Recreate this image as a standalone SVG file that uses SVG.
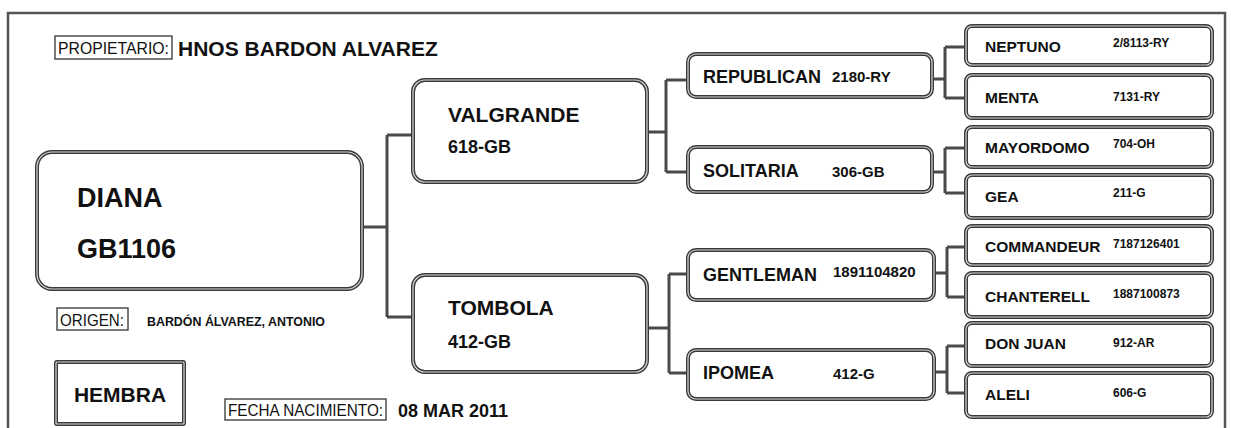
<svg xmlns="http://www.w3.org/2000/svg" width="1234" height="428" viewBox="0 0 1234 428">
<style>
.bo{fill:#fff;stroke:#3a3a3a;stroke-width:4}
.bi{fill:none;stroke:#d8d8d8;stroke-width:1.2}
.frame{fill:none;stroke:#555;stroke-width:2.5}
.lbl{fill:#fff;stroke:#333;stroke-width:1.3}
.c{fill:none;stroke:#4a4a4a;stroke-width:3}
text{font-family:"Liberation Sans",Arial,sans-serif;fill:#111}
.b{font-weight:bold}
.n1{font-size:27px;font-weight:bold}
.n2{font-size:21px;font-weight:bold}
.i2{font-size:18px;font-weight:bold}
.n3{font-size:18px;font-weight:bold}
.i3{font-size:15px;font-weight:bold}
.n4{font-size:15.5px;font-weight:bold}
.i4{font-size:12px;font-weight:bold}
</style>
<rect x="0" y="0" width="1234" height="428" fill="#fff"/>
<rect class="frame" x="8" y="13" width="1217" height="430"/>

<g id="propietario">
<rect class="lbl" x="55" y="36" width="117" height="23"/>
<text x="58" y="54" font-size="17" textLength="111" lengthAdjust="spacingAndGlyphs">PROPIETARIO:</text>
<text class="b" x="178" y="56" font-size="21">HNOS BARDON ALVAREZ</text>
</g>

<g id="origen">
<rect class="lbl" x="57" y="308" width="71" height="22"/>
<text x="60" y="326" font-size="16" textLength="64" lengthAdjust="spacingAndGlyphs">ORIGEN:</text>
<text class="b" x="147" y="326" font-size="12" textLength="178" lengthAdjust="spacingAndGlyphs">BARDÓN ÁLVAREZ, ANTONIO</text>
</g>

<g id="hembra">
<rect class="bo" x="56" y="362" width="128" height="62" rx="1"/>
<rect class="bi" x="56" y="362" width="128" height="62" rx="1"/>
<text class="b" x="120" y="402" font-size="21" text-anchor="middle">HEMBRA</text>
</g>

<g id="fecha">
<rect class="lbl" x="225" y="399" width="161" height="21"/>
<text x="228" y="416" font-size="16" textLength="155" lengthAdjust="spacingAndGlyphs">FECHA NACIMIENTO:</text>
<text class="b" x="398" y="417" font-size="18">08 MAR 2011</text>
</g>

<g id="connectors">
<path class="c" d="M362 227 H387 M387 135 V317 M387 135 H413 M387 317 H413"/>
<path class="c" d="M647 132 H666 M666 80 V172 M666 80 H688 M666 172 H688"/>
<path class="c" d="M647 328 H669 M669 274 V373 M669 274 H688 M669 373 H688"/>
<path class="c" d="M932 79 H945 M945 47 V98 M945 47 H966 M945 98 H966"/>
<path class="c" d="M932 172 H945 M945 148 V193 M945 148 H966 M945 193 H966"/>
<path class="c" d="M934 273 H947 M947 247 V297 M947 247 H966 M947 297 H966"/>
<path class="c" d="M934 372 H947 M947 346 V393 M947 346 H966 M947 393 H966"/>
</g>

<g id="diana">
<rect class="bo" x="37" y="152" width="325" height="137" rx="15"/>
<rect class="bi" x="37" y="152" width="325" height="137" rx="15"/>
<text class="n1" x="77" y="207">DIANA</text>
<text class="n1" x="77" y="258">GB1106</text>
</g>

<g id="valgrande">
<rect class="bo" x="413" y="80" width="234" height="102" rx="12"/>
<rect class="bi" x="413" y="80" width="234" height="102" rx="12"/>
<text class="n2" x="448" y="122">VALGRANDE</text>
<text class="i2" x="448" y="153">618-GB</text>
</g>

<g id="tombola">
<rect class="bo" x="413" y="275" width="234" height="97" rx="12"/>
<rect class="bi" x="413" y="275" width="234" height="97" rx="12"/>
<text class="n2" x="448" y="315">TOMBOLA</text>
<text class="i2" x="448" y="348">412-GB</text>
</g>

<g id="republican">
<rect class="bo" x="688" y="54" width="244" height="43" rx="8"/>
<rect class="bi" x="688" y="54" width="244" height="43" rx="8"/>
<text class="n3" x="703" y="83">REPUBLICAN</text>
<text class="i3" x="832" y="82">2180-RY</text>
</g>

<g id="solitaria">
<rect class="bo" x="688" y="147" width="244" height="45" rx="8"/>
<rect class="bi" x="688" y="147" width="244" height="45" rx="8"/>
<text class="n3" x="703" y="177">SOLITARIA</text>
<text class="i3" x="832" y="177">306-GB</text>
</g>

<g id="gentleman">
<rect class="bo" x="688" y="250" width="246" height="50" rx="8"/>
<rect class="bi" x="688" y="250" width="246" height="50" rx="8"/>
<text class="n3" x="703" y="281">GENTLEMAN</text>
<text class="i3" x="833" y="277">1891104820</text>
</g>

<g id="ipomea">
<rect class="bo" x="688" y="350" width="246" height="49" rx="8"/>
<rect class="bi" x="688" y="350" width="246" height="49" rx="8"/>
<text class="n3" x="703" y="379">IPOMEA</text>
<text class="i3" x="833" y="379">412-G</text>
</g>

<g id="neptuno">
<rect class="bo" x="966" y="26" width="246" height="39" rx="6"/>
<rect class="bi" x="966" y="26" width="246" height="39" rx="6"/>
<text class="n4" x="985" y="52">NEPTUNO</text>
<text class="i4" x="1113" y="47">2/8113-RY</text>
</g>

<g id="menta">
<rect class="bo" x="966" y="75" width="246" height="43" rx="6"/>
<rect class="bi" x="966" y="75" width="246" height="43" rx="6"/>
<text class="n4" x="985" y="103">MENTA</text>
<text class="i4" x="1113" y="101">7131-RY</text>
</g>

<g id="mayordomo">
<rect class="bo" x="966" y="127" width="246" height="40" rx="6"/>
<rect class="bi" x="966" y="127" width="246" height="40" rx="6"/>
<text class="n4" x="985" y="153">MAYORDOMO</text>
<text class="i4" x="1113" y="148">704-OH</text>
</g>

<g id="gea">
<rect class="bo" x="966" y="175" width="246" height="43" rx="6"/>
<rect class="bi" x="966" y="175" width="246" height="43" rx="6"/>
<text class="n4" x="985" y="202">GEA</text>
<text class="i4" x="1113" y="197">211-G</text>
</g>

<g id="commandeur">
<rect class="bo" x="966" y="226" width="246" height="39" rx="6"/>
<rect class="bi" x="966" y="226" width="246" height="39" rx="6"/>
<text class="n4" x="985" y="252">COMMANDEUR</text>
<text class="i4" x="1113" y="248">7187126401</text>
</g>

<g id="chanterell">
<rect class="bo" x="966" y="273" width="246" height="44" rx="6"/>
<rect class="bi" x="966" y="273" width="246" height="44" rx="6"/>
<text class="n4" x="985" y="302">CHANTERELL</text>
<text class="i4" x="1113" y="298">1887100873</text>
</g>

<g id="donjuan">
<rect class="bo" x="966" y="323" width="246" height="43" rx="6"/>
<rect class="bi" x="966" y="323" width="246" height="43" rx="6"/>
<text class="n4" x="985" y="349">DON JUAN</text>
<text class="i4" x="1113" y="347">912-AR</text>
</g>

<g id="aleli">
<rect class="bo" x="966" y="373" width="246" height="44" rx="6"/>
<rect class="bi" x="966" y="373" width="246" height="44" rx="6"/>
<text class="n4" x="985" y="400">ALELI</text>
<text class="i4" x="1113" y="397">606-G</text>
</g>
</svg>
